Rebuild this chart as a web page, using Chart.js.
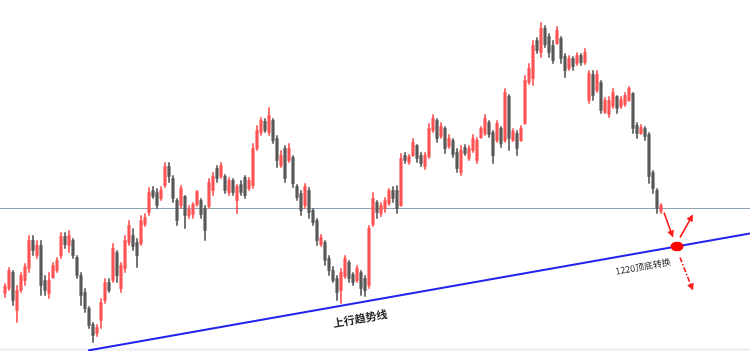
<!DOCTYPE html>
<html>
<head>
<meta charset="utf-8">
<script src="https://cdn.jsdelivr.net/npm/chart.js@4.4.1/dist/chart.umd.min.js"></script>
<style>
  html, body { margin: 0; padding: 0; background: #fff; }
  #wrap { width: 750px; height: 351px; }
</style>
</head>
<body>
<div id="wrap"><canvas id="c" width="750" height="351"></canvas></div>
<script>
// candle data, one entry per bar
var opens = [
  1135,1140,1156,1118,1138,1148,1160,1188,1173,1183, 1148,1135,1151,1158,1173,1192,1183,1188,1171,1153,
  1136,1120,1104,1095,1108,1128,1146,1148,1176,1140, 1160,1186,1193,1186,1185,1204,1216,1238,1236,1230,
  1243,1262,1250,1228,1223,1232,1213,1214,1224,1228, 1220,1222,1238,1260,1252,1252,1236,1248,1228,1244,
  1251,1240,1243,1280,1296,1307,1296,1308,1290,1263, 1280,1268,1271,1242,1235,1223,1238,1218,1208,1184,
  1186,1170,1158,1150,1138,1152,1166,1154,1148,1156, 1150,1143,1204,1226,1215,1220,1225,1238,1238,1223,
  1273,1266,1273,1283,1273,1262,1272,1298,1308,1292, 1300,1282,1288,1276,1256,1281,1270,1278,1268,1291,
  1295,1306,1296,1288,1300,1288,1332,1288,1295,1288, 1305,1346,1350,1388,1376,1400,1392,1383,1385,1390,
  1372,1360,1370,1365,1373,1366,1328,1354,1338,1346, 1316,1314,1322,1332,1322,1324,1328,1335,1303,1295,
  1300,1294,1256,1238,1217
];
var highs = [
  1145,1161,1158,1143,1156,1165,1193,1193,1188,1188, 1153,1156,1166,1171,1196,1196,1198,1190,1173,1156,
  1140,1122,1106,1104,1130,1150,1150,1185,1178,1166, 1193,1208,1200,1190,1213,1215,1241,1242,1240,1242,
  1266,1266,1253,1230,1243,1233,1223,1226,1238,1230, 1223,1250,1256,1263,1266,1254,1251,1250,1244,1248,
  1253,1251,1285,1303,1311,1310,1321,1310,1293,1278, 1283,1285,1273,1244,1238,1245,1241,1220,1210,1194,
  1188,1173,1162,1153,1160,1173,1168,1156,1163,1158, 1153,1203,1236,1228,1226,1231,1240,1242,1243,1275,
  1276,1274,1290,1284,1276,1276,1305,1314,1310,1306, 1302,1294,1290,1280,1283,1284,1283,1294,1291,1302,
  1314,1308,1298,1308,1302,1340,1334,1300,1298,1303, 1353,1365,1388,1391,1406,1403,1395,1388,1402,1392,
  1375,1373,1372,1376,1375,1380,1358,1358,1358,1348, 1331,1332,1340,1333,1332,1336,1342,1336,1306,1304,
  1302,1296,1258,1240,1225
];
var lows = [
  1131,1138,1123,1106,1136,1143,1156,1173,1170,1133, 1133,1130,1150,1156,1170,1180,1176,1170,1150,1123,
  1116,1100,1086,1092,1100,1125,1136,1146,1146,1136, 1156,1183,1178,1161,1183,1202,1213,1230,1220,1228,
  1241,1246,1226,1203,1220,1200,1210,1210,1222,1210, 1188,1220,1233,1246,1250,1235,1233,1233,1215,1233,
  1230,1238,1240,1278,1293,1296,1293,1285,1261,1261, 1246,1266,1241,1228,1213,1220,1210,1203,1183,1182,
  1163,1153,1146,1128,1125,1150,1146,1143,1146,1133, 1132,1140,1202,1210,1212,1216,1223,1226,1215,1222,
  1265,1264,1272,1266,1262,1259,1270,1296,1286,1290, 1275,1280,1271,1256,1253,1273,1268,1276,1265,1290,
  1293,1291,1265,1286,1281,1286,1278,1287,1273,1287, 1304,1344,1343,1375,1371,1381,1371,1365,1384,1365,
  1351,1358,1358,1363,1363,1364,1325,1328,1336,1315, 1315,1311,1320,1315,1320,1322,1327,1295,1290,1294,
  1288,1245,1235,1215,1215
];
var closes = [
  1142,1158,1128,1138,1153,1162,1188,1178,1183,1143, 1138,1148,1163,1168,1192,1184,1193,1173,1153,1133,
  1120,1103,1093,1101,1126,1146,1138,1180,1153,1163, 1188,1203,1182,1173,1208,1211,1236,1232,1223,1238,
  1262,1252,1230,1208,1240,1213,1219,1224,1237,1214, 1198,1246,1252,1250,1263,1238,1248,1236,1242,1236,
  1233,1248,1280,1298,1308,1298,1313,1288,1268,1273, 1250,1280,1245,1231,1218,1242,1216,1206,1188,1191,
  1168,1158,1148,1136,1156,1170,1150,1146,1160,1140, 1138,1200,1230,1216,1223,1228,1238,1230,1220,1270,
  1268,1272,1286,1270,1265,1273,1300,1310,1290,1302, 1280,1290,1274,1260,1278,1275,1280,1290,1288,1300,
  1310,1294,1273,1305,1285,1336,1290,1297,1280,1300, 1348,1360,1383,1378,1400,1384,1376,1368,1398,1370,
  1358,1370,1362,1373,1366,1376,1355,1333,1354,1318, 1328,1328,1336,1320,1329,1333,1340,1300,1295,1301,
  1292,1252,1240,1220,1223
];

// reference lines and notes
var levelPrice = 1220;
var trendX = [20.75, 186.25];
var trendY = [1078, 1195];
var pivotX = 168, pivotY = 1182;
var arrowFrom = [[164.75, 1216], [168.75, 1191], [168.75, 1171]];
var arrowTo   = [[167, 1191], [172, 1214], [172, 1138]];
var arrowDashed = [false, false, true];
var noteText = ['上行趋势线', '1220顶底转换'];
var noteX = [88.75, 159.5];
var noteY = [1110, 1162];
var noteFont = ['bold 11px', '9px'];

var upColor = '#ff5252';
var downColor = '#585858';

var colors = closes.map(function (c, i) { return c >= opens[i] ? upColor : downColor; });
var wickData = closes.map(function (c, i) { return { x: i, y: [lows[i], highs[i]] }; });
var bodyData = closes.map(function (c, i) { return { x: i, y: [opens[i], c] }; });

var marks = {
  id: 'marks',
  beforeDraw: function (chart) {
    var ctx = chart.ctx;
    ctx.save();
    ctx.fillStyle = '#eef2f6';
    ctx.fillRect(0, chart.height - 3, chart.width, 3);
    ctx.restore();
  },
  afterDatasetsDraw: function (chart) {
    var ctx = chart.ctx, xs = chart.scales.x, ys = chart.scales.y;
    ctx.save();

    // arrows
    for (var k = 0; k < arrowFrom.length; k++) {
      var x1 = xs.getPixelForValue(arrowFrom[k][0]), y1 = ys.getPixelForValue(arrowFrom[k][1]);
      var x2 = xs.getPixelForValue(arrowTo[k][0]), y2 = ys.getPixelForValue(arrowTo[k][1]);
      var ang = Math.atan2(y2 - y1, x2 - x1);
      var head = 7;
      ctx.strokeStyle = '#ff1a1a';
      ctx.fillStyle = '#ff1a1a';
      ctx.lineWidth = 1.6;
      ctx.setLineDash(arrowDashed[k] ? [5, 2, 1.5, 2] : []);
      ctx.beginPath();
      ctx.moveTo(x1, y1);
      ctx.lineTo(x2 - Math.cos(ang) * head * 0.8, y2 - Math.sin(ang) * head * 0.8);
      ctx.stroke();
      ctx.setLineDash([]);
      ctx.beginPath();
      ctx.moveTo(x2, y2);
      ctx.lineTo(x2 - head * Math.cos(ang) + 3.5 * Math.sin(ang), y2 - head * Math.sin(ang) - 3.5 * Math.cos(ang));
      ctx.lineTo(x2 - head * Math.cos(ang) - 3.5 * Math.sin(ang), y2 - head * Math.sin(ang) + 3.5 * Math.cos(ang));
      ctx.closePath();
      ctx.fill();
    }

    // pivot dot
    var px = xs.getPixelForValue(pivotX), py = ys.getPixelForValue(pivotY);
    ctx.fillStyle = '#ff0000';
    ctx.beginPath();
    ctx.ellipse(px, py, 6.5, 4.8, 0, 0, 2 * Math.PI);
    ctx.fill();

    // notes follow the slope of the trend line
    var tx1 = xs.getPixelForValue(trendX[0]), ty1 = ys.getPixelForValue(trendY[0]);
    var tx2 = xs.getPixelForValue(trendX[1]), ty2 = ys.getPixelForValue(trendY[1]);
    var rot = Math.atan2(ty2 - ty1, tx2 - tx1);
    ctx.fillStyle = '#262626';
    ctx.textAlign = 'center';
    ctx.textBaseline = 'middle';
    for (var n = 0; n < noteText.length; n++) {
      ctx.save();
      ctx.translate(xs.getPixelForValue(noteX[n]), ys.getPixelForValue(noteY[n]));
      ctx.rotate(rot);
      ctx.font = noteFont[n] + ' "Noto Sans CJK SC", "Noto Sans", sans-serif';
      ctx.fillText(noteText[n], 0, 0);
      ctx.restore();
    }
    ctx.restore();
  }
};

new Chart(document.getElementById('c'), {
  type: 'bar',
  data: {
    datasets: [
      {
        type: 'line', order: 10,
        data: [{ x: -1.25, y: levelPrice }, { x: 186.25, y: levelPrice }],
        borderColor: '#8ea2b6', borderWidth: 1, pointRadius: 0
      },
      {
        type: 'bar', order: 6, data: wickData,
        backgroundColor: colors, barThickness: 1, grouped: false, borderWidth: 0
      },
      {
        type: 'bar', order: 5, data: bodyData,
        backgroundColor: colors, barThickness: 2.5, grouped: false, borderWidth: 0
      },
      {
        type: 'line', order: 1,
        data: [{ x: trendX[0], y: trendY[0] }, { x: trendX[1], y: trendY[1] }],
        borderColor: '#2222ee', borderWidth: 2, pointRadius: 0
      }
    ]
  },
  options: {
    responsive: false,
    animation: false,
    layout: { padding: 0 },
    plugins: { legend: { display: false }, tooltip: { enabled: false } },
    scales: {
      x: { type: 'linear', min: -1.25, max: 186.25, offset: false, display: false },
      y: { type: 'linear', min: 1077.5, max: 1428.5, display: false }
    }
  },
  plugins: [marks]
});
</script>
</body>
</html>
